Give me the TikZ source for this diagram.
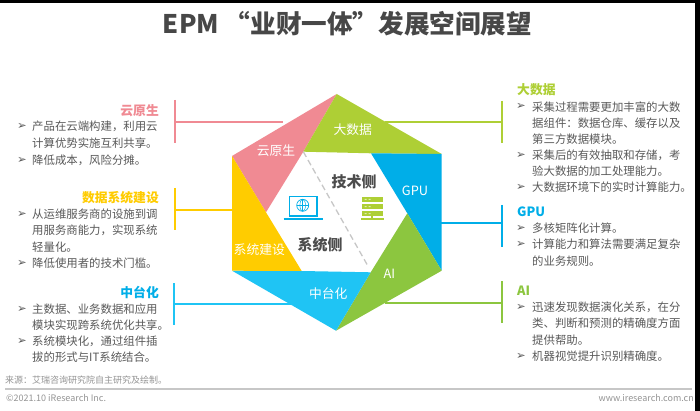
\documentclass[tikz,border=0pt]{standalone}
\usepackage{fontspec}
\setmainfont{Noto Sans CJK SC}
\newfontfamily\arrowfont{DejaVu Sans}
\definecolor{cloudpink}{HTML}{F08A93}
\definecolor{datalime}{HTML}{AECF35}
\definecolor{gpublue}{HTML}{00AEE8}
\definecolor{aigreen}{HTML}{8CC63F}
\definecolor{midblue}{HTML}{1FC4F4}
\definecolor{sysyellow}{HTML}{FFCC00}
\definecolor{bodygrey}{HTML}{595959}
\tikzset{
  headtext/.style={font=\fontsize{12.8}{16}\selectfont\bfseries,inner sep=0pt},
  itemtext/.style={font=\fontsize{11.4}{16}\selectfont,text=bodygrey,inner sep=0pt,anchor=west},
  itemmark/.style={font=\fontsize{11.5}{12}\arrowfont,text=bodygrey,inner sep=0pt},
  seglabel/.style={font=\fontsize{12.8}{16}\selectfont,text=white,inner sep=0pt},
  sidelabel/.style={font=\fontsize{15}{18}\selectfont\bfseries,text=bodygrey!85!black,inner sep=0pt},
  footnote/.style={font=\fontsize{9}{11}\selectfont,text=black!42,inner sep=0pt},
  bracket/.style={line width=1.3pt}
}
% one line of text
\newcommand{\itemline}[3]{\node[itemtext] (#1) at (#2) {#3};}
\begin{document}
\begin{tikzpicture}[x=1pt,y=-1pt]
	\useasboundingbox (0,0) rectangle (700,411);
	\fill[white] (0,0) rectangle (700,411);
	% black edges of the screenshot
	\fill[black] (0,0) rectangle (700,3);
	\fill[black] (695,0) rectangle (700,411);
	% title
	\node[font=\fontsize{25.6}{30}\selectfont\bfseries,text=black!72,inner sep=0pt] (title) at (347.5,24) {EPM “业财一体”发展空间展望};
	% corners of the hexagon
	\coordinate (top) at (336.7,94);
	\coordinate (upright) at (441.7,154);
	\coordinate (lowright) at (441.7,270.7);
	\coordinate (bottom) at (336,330.7);
	\coordinate (lowleft) at (232,270.7);
	\coordinate (upleft) at (232,156);
	% corners of the white centre
	\coordinate (in1) at (303.3,151.7);
	\coordinate (in2) at (371,153.3);
	\coordinate (in3) at (407.3,213.3);
	\coordinate (in4) at (370.7,272.3);
	\coordinate (in5) at (301.7,271);
	\coordinate (in6) at (266,212.3);
	% brackets on the left
	\coordinate (cloudb) at (175,122);
	\coordinate (sysb) at (175,210);
	\coordinate (midb) at (174,304);
	\coordinate (cloudh) at (283,122);
	\coordinate (sysh) at (240,210);
	\coordinate (midh) at (292,304);
	\draw[cloudpink,bracket] (175,100) -- (175,143);
	\draw[sysyellow,bracket] (175,188) -- (175,230);
	\draw[midblue,bracket] (174,283) -- (174,325);
	\draw[cloudpink,bracket] (cloudb) -- (cloudh);
	\draw[sysyellow,bracket] (sysb) -- (sysh);
	\draw[midblue,bracket] (midb) -- (midh);
	% brackets on the right
	\coordinate (datab) at (502,122);
	\coordinate (gpub) at (502,223);
	\coordinate (aib) at (502,303);
	\coordinate (datah) at (385,122);
	\coordinate (gpuh) at (435,223);
	\coordinate (aih) at (385,303);
	\draw[datalime,bracket] (502,101) -- (502,143);
	\draw[gpublue,bracket] (502,205) -- (502,247);
	\draw[aigreen,bracket] (502,281) -- (502,323);
	\draw[datalime,bracket] (datab) -- (datah);
	\draw[gpublue,bracket] (gpub) -- (gpuh);
	\draw[aigreen,bracket] (aib) -- (aih);
	% the six segments
	\fill[cloudpink] (top) -- (in1) -- (in6) -- (upleft) -- cycle;
	\fill[datalime] (top) -- (upright) -- (in2) -- (in1) -- cycle;
	\fill[gpublue] (upright) -- (lowright) -- (in3) -- (in2) -- cycle;
	\fill[aigreen] (lowright) -- (bottom) -- (in4) -- (in3) -- cycle;
	\fill[midblue] (bottom) -- (lowleft) -- (in5) -- (in4) -- cycle;
	\fill[sysyellow] (lowleft) -- (upleft) -- (in6) -- (in5) -- cycle;
	% the line through the centre
	\draw[black!22,line width=1.3pt,dash pattern=on 6pt off 3.5pt] (in1) -- (368.3,266.7);
	% labels on the segments
	\node[seglabel] (lbldata) at (352.7,129.3) {大数据};
	\node[seglabel] (lblcloud) at (276,150.7) {云原生};
	\node[seglabel] (lblgpu) at (415,191) {GPU};
	\node[seglabel] (lblsys) at (259.3,249.3) {系统建设};
	\node[seglabel] (lblmid) at (328.3,293.3) {中台化};
	\node[seglabel] (lblai) at (389.3,274) {AI};
	\node[sidelabel] (techside) at (354,181.7) {技术侧};
	\node[sidelabel] (sysside) at (320,244.3) {系统侧};
	% laptop
	\draw[gpublue,line width=1.6pt] (289.5,196.5) rectangle (317,216);
	\draw[gpublue,line width=2pt] (283.5,218.6) -- (322.5,218.6);
	\draw[gpublue,line width=.7pt] (302.7,205.3) circle (6);
	\draw[gpublue,line width=.5pt] (296.7,205.3) -- (308.7,205.3) (302.7,199.3) -- (302.7,211.3);
	\draw[gpublue,line width=.5pt] (302.7,205.3) ellipse (2.8 and 6);
	% server
	\foreach \ya in {196.7,204,211}
	{
		\fill[datalime] (361.7,\ya) rectangle (382.7,\ya+5.4);
		\fill[white!60!datalime] (364.5,\ya+2.2) rectangle (366.5,\ya+3.2) (368.5,\ya+2.2) rectangle (370.5,\ya+3.2);
	}
	\draw[datalime,line width=1.5pt] (372.2,216) -- (372.2,219) (361,219) -- (384,219);
	% left column
	\node[headtext,text=cloudpink,anchor=east] (hcloud) at (159,110.7) {云原生};
	\itemline{c1}{32,126.7}{产品在云端构建，利用云}
	\itemline{c2}{32,142.7}{计算优势实施互利共享。}
	\itemline{c3}{32,160}{降低成本，风险分摊。}
	\node[headtext,text=sysyellow,anchor=east] (hsys) at (159,198) {数据系统建设};
	\itemline{s1}{32,214}{从运维服务商的设施到调}
	\itemline{s2}{32,230}{用服务商能力，实现系统}
	\itemline{s3}{32,246.7}{轻量化。}
	\itemline{s4}{32,263}{降低使用者的技术门槛。}
	\node[headtext,text=gpublue,anchor=east] (hmid) at (159,292.7) {中台化};
	\itemline{m1}{32,309}{主数据、业务数据和应用}
	\itemline{m2}{32,325}{模块实现跨系统优化共享。}
	\itemline{m3}{32,341.7}{系统模块化，通过组件插}
	\itemline{m4}{32,357}{拔的形式与IT系统结合。}
	% right column
	\node[headtext,text=datalime,anchor=west] (hdata) at (517,90) {大数据};
	\itemline{d1}{532,106.7}{采集过程需要更加丰富的大数}
	\itemline{d2}{532,122.7}{据组件：数据仓库、缓存以及}
	\itemline{d3}{532,139}{第三方数据模块。}
	\itemline{d4}{532,155}{采集后的有效抽取和存储，考}
	\itemline{d5}{532,170.7}{验大数据的加工处理能力。}
	\itemline{d6}{532,187}{大数据环境下的实时计算能力。}
	\node[headtext,text=gpublue,anchor=west] (hgpu) at (517,211.7) {GPU};
	\itemline{g1}{532,228}{多核矩阵化计算。}
	\itemline{g2}{532,244}{计算能力和算法需要满足复杂}
	\itemline{g3}{532,260.7}{的业务规则。}
	\node[headtext,text=aigreen,anchor=west] (hai) at (517,290.7) {AI};
	\itemline{a1}{532,307.3}{迅速发现数据演化关系，在分}
	\itemline{a2}{532,323.3}{类、判断和预测的精确度方面}
	\itemline{a3}{532,340}{提供帮助。}
	\itemline{a4}{532,356}{机器视觉提升识别精确度。}
	% arrows in front of the items
	\foreach \xa/\ya in {22/126.7,22/160,22/214,22/263,22/309,22/341.7,521/106.7,521/155,521/187,521/228,521/244,521/307.3,521/356}
		\node[itemmark] at (\xa,\ya) {➢};
	% footer
	\node[footnote,anchor=west] (source) at (5,380) {来源：艾瑞咨询研究院自主研究及绘制。};
	\draw[black!22,line width=1.2pt] (5,389) -- (692,389);
	\node[footnote,anchor=west] (copyright) at (6,398) {©2021.10 iResearch Inc.};
	\node[footnote,anchor=east] (website) at (694,398) {www.iresearch.com.cn};
\end{tikzpicture}
\end{document}
